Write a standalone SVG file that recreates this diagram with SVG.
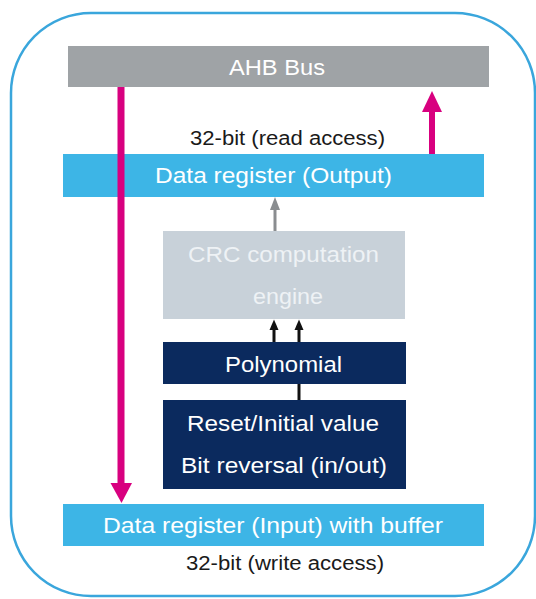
<svg xmlns="http://www.w3.org/2000/svg" width="536" height="599" viewBox="0 0 536 599">
<style>
text{font-family:"Liberation Sans",Arial,sans-serif;}
.lbl{fill:#ffffff;font-size:22px;}
.crc{fill:#eef2f5;font-size:22px;}
.blk{fill:#1a1a1a;font-size:20px;}
.bus{fill:#9fa3a6;}
.reg{fill:#3db5e6;}
.eng{fill:#c8d1d9;}
.navy{fill:#0b2a5e;}
</style>
<defs>
<marker id="ahG" markerWidth="4" markerHeight="5" refX="3.5" refY="2.5" orient="auto" markerUnits="strokeWidth"><path d="M0,0 L4,2.5 L0,5 Z" fill="#8a8d90"/></marker>
</defs>
<rect x="11" y="13" width="524" height="583" rx="80" ry="80" fill="#ffffff" stroke="#3aa6dc" stroke-width="2.5"/>
<g id="ahb-bus">
<rect class="bus" x="68" y="46" width="421" height="41"/>
<text class="lbl" x="229" y="75" textLength="96" lengthAdjust="spacingAndGlyphs">AHB Bus</text>
</g>
<g id="read-label">
<text class="blk" x="190" y="145" textLength="195" lengthAdjust="spacingAndGlyphs">32-bit (read access)</text>
</g>
<g id="data-output">
<rect class="reg" x="63" y="154" width="421" height="43"/>
<text class="lbl" x="155" y="183" textLength="237" lengthAdjust="spacingAndGlyphs">Data register (Output)</text>
</g>
<g id="crc-engine">
<rect class="eng" x="163" y="231" width="242" height="88"/>
<text class="crc" x="188" y="262" textLength="191" lengthAdjust="spacingAndGlyphs">CRC computation</text>
<text class="crc" x="253" y="304" textLength="70" lengthAdjust="spacingAndGlyphs">engine</text>
</g>
<g id="polynomial">
<rect class="navy" x="163" y="342" width="243" height="42"/>
<text class="lbl" x="225" y="372" textLength="117" lengthAdjust="spacingAndGlyphs">Polynomial</text>
</g>
<g id="reset-bitrev">
<rect class="navy" x="163" y="400" width="243" height="89"/>
<text class="lbl" x="187" y="431" textLength="192" lengthAdjust="spacingAndGlyphs">Reset/Initial value</text>
<text class="lbl" x="181" y="473" textLength="206" lengthAdjust="spacingAndGlyphs">Bit reversal (in/out)</text>
</g>
<g id="data-input">
<rect class="reg" x="63" y="504" width="421" height="42"/>
<text class="lbl" x="103" y="533" textLength="340" lengthAdjust="spacingAndGlyphs">Data register (Input) with buffer</text>
</g>
<g id="write-label">
<text class="blk" x="186" y="570" textLength="198" lengthAdjust="spacingAndGlyphs">32-bit (write access)</text>
</g>
<g id="connectors">
<line x1="121" y1="87" x2="121" y2="484" stroke="#d8007f" stroke-width="7"/>
<polygon points="110.5,483 132,483 121.5,503" fill="#d8007f"/>
<line x1="432" y1="154" x2="432" y2="110" stroke="#d8007f" stroke-width="6"/>
<polygon points="422,112 442,112 432,91" fill="#d8007f"/>
<line x1="275" y1="231" x2="275" y2="208" stroke="#8a8d90" stroke-width="3"/>
<polygon points="270,210 280,210 275,197" fill="#8a8d90"/>
<line x1="274" y1="342" x2="274" y2="328" stroke="#111111" stroke-width="3"/>
<polygon points="269.5,330 278.5,330 274,319.5" fill="#111111"/>
<line x1="299" y1="342" x2="299" y2="328" stroke="#111111" stroke-width="3"/>
<polygon points="294.5,330 303.5,330 299,319.5" fill="#111111"/>
<line x1="299" y1="384" x2="299" y2="400" stroke="#111111" stroke-width="3"/>
</g>
</svg>
